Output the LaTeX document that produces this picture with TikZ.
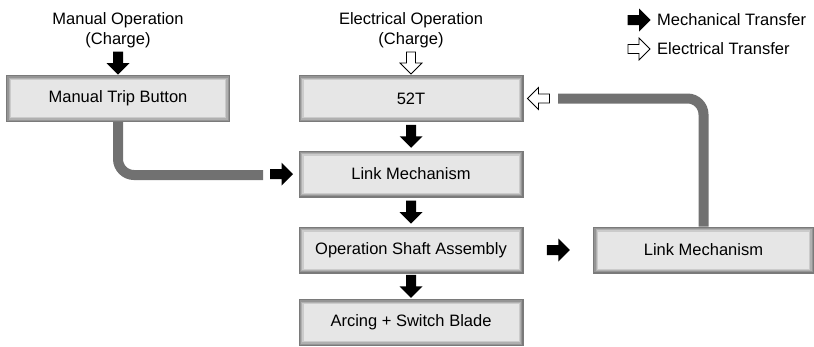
\documentclass[tikz,border=0pt]{standalone}
\usepackage{fontspec}
\setmainfont{Liberation Sans}
\usetikzlibrary{calc}
\definecolor{boxfill}{HTML}{E6E6E6}
\definecolor{conngray}{HTML}{717171}
\definecolor{fa}{HTML}{7A7A7A}
\definecolor{fb}{HTML}{959595}
\definecolor{fc}{HTML}{B0B0B0}
\definecolor{fd}{HTML}{CBCBCB}
\tikzset{
  marrow/.pic={\fill[black] (-11.5,-5) -- (0,-5) -- (0,-11.5) -- (11.5,0) -- (0,11.5) -- (0,5) -- (-11.5,5) -- cycle;},
  earrow/.pic={\filldraw[fill=white, draw=black, line width=0.8pt, line join=miter] (-11,-4.5) -- (0,-4.5) -- (0,-11) -- (11,0) -- (0,11) -- (0,4.5) -- (-11,4.5) -- cycle;}
}
\begin{document}
\begin{tikzpicture}[x=1pt,y=-1pt,
  box/.style={minimum width=225pt, minimum height=47pt, fill=boxfill, inner sep=0pt, outer sep=0pt, font=\fontsize{16.5}{20}\selectfont},
  conn/.style={line width=10pt, draw=conngray, rounded corners=16pt},
  lbl/.style={font=\fontsize{16.5}{20}\selectfont, align=center, inner sep=0pt}
]
\useasboundingbox (0,0) rectangle (814,346);

% boxes
\node[box, minimum width=224pt] (mtb) at (118,98.5) {Manual Trip Button};
\node[box] (t52) at (411,98.5) {52T};
\node[box] (link) at (411,174) {Link Mechanism};
\node[box] (shaft) at (411,250) {Operation Shaft Assembly};
\node[box] (arc) at (411,322.5) {Arcing + Switch Blade};
\node[box, minimum width=221pt] (rlink) at (703.5,250) {Link Mechanism};

% bevelled frames
\foreach \n in {mtb,t52,link,shaft,arc,rlink}{
  \draw[fa, line width=1.25pt] ($(\n.north west)+(0.625,0.625)$) rectangle ($(\n.south east)+(-0.625,-0.625)$);
  \draw[fb, line width=1.25pt] ($(\n.north west)+(1.875,1.875)$) rectangle ($(\n.south east)+(-1.875,-1.875)$);
  \draw[fc, line width=1.25pt] ($(\n.north west)+(3.125,3.125)$) rectangle ($(\n.south east)+(-3.125,-3.125)$);
  \draw[fd, line width=1.25pt] ($(\n.north west)+(4.375,4.375)$) rectangle ($(\n.south east)+(-4.375,-4.375)$);
}

% top labels
\node[lbl, anchor=north] (manop) at (118,12) {Manual Operation\\(Charge)};
\node[lbl, anchor=north] (elop) at (411,12) {Electrical Operation\\(Charge)};

% gray connectors
\coordinate (mtbend) at (263,175);
\coordinate (rend) at (558,98.5);
\draw[conn] (mtb.south) |- (mtbend);
\draw[conn] (rlink.north) |- (rend);

% transfer arrows
\pic[rotate=-90] at ($(mtb.north)+(0,-12)$) {marrow};
\pic[rotate=-90] at ($(t52.north)+(0,-12)$) {earrow};
\pic[rotate=-90] at ($(t52.south)!0.5!(link.north)$) {marrow};
\pic[rotate=-90] at ($(link.south)!0.5!(shaft.north)$) {marrow};
\pic[rotate=-90] at ($(shaft.south)!0.5!(arc.north)$) {marrow};
\pic at ($(link.west)+(-17,0)$) {marrow};
\pic at ($(shaft.east)!0.5!(rlink.west)$) {marrow};
\pic[rotate=180] at ($(t52.east)+(15,0)$) {earrow};

% legend
\pic at (639,20) {marrow};
\pic at (639,49) {earrow};
\node[lbl, anchor=west] (legm) at (657,20) {Mechanical Transfer};
\node[lbl, anchor=west] (lege) at (657,49) {Electrical Transfer};
\end{tikzpicture}
\end{document}
